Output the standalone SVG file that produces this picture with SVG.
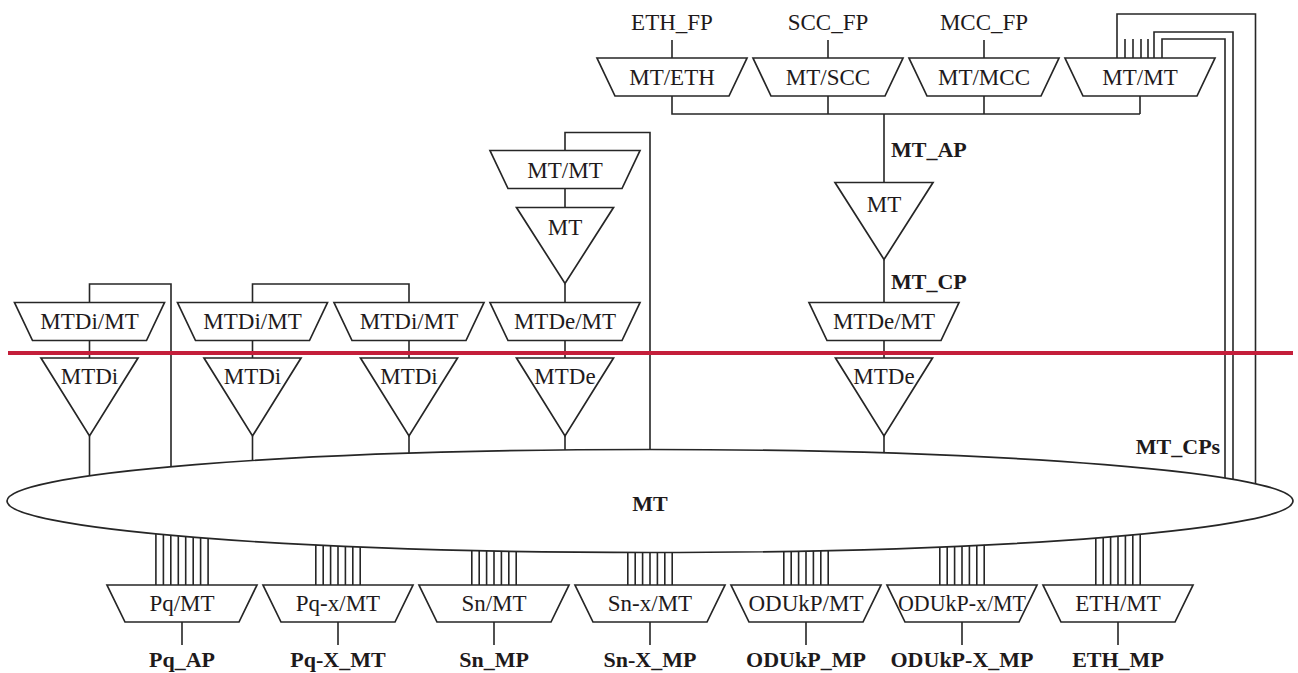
<svg xmlns="http://www.w3.org/2000/svg" width="1298" height="673" viewBox="0 0 1298 673">
<style>
.s{fill:#fff;stroke:#262626;stroke-width:1.7;stroke-linejoin:miter}
.c{fill:none;stroke:#262626;stroke-width:1.6}
.t{font-family:"Liberation Serif","Times New Roman",serif;font-size:23px;fill:#1e1a1b;text-anchor:middle}
.b{font-family:"Liberation Serif","Times New Roman",serif;font-size:22px;font-weight:bold;fill:#1e1a1b}
.m{text-anchor:middle}
</style>
<rect width="1298" height="673" fill="#fff"/>
<g id="connectors" class="c">
<path d="M672,40V58M828,40V58M984,40V58"/>
<path d="M672,96V114H1140M828,96V114M984,96V114M1140,96V114"/>
<path d="M884,114V182.5M884,259.5V302.5M884,340.5V358M884,436V457"/>
<path d="M1117,58V14H1255.5V487M1154,58V32H1233V483M1162,58V39H1225V482M1125,39V58M1133,39V58M1141,39V58M1148,39V58"/>
<path d="M565,150.5V132.5H650V453M565,188.5V207.5M565,283.5V302.5M565,340.5V358M565,436V454"/>
<path d="M89.5,302.5V284H171V470M89.5,340.5V358M89.5,436V480"/>
<path d="M252.5,302.5V284H409V302.5M252.5,340.5V358M252.5,436V464M409,340.5V358M409,436V457"/>
<path d="M155.9,532V585M163.4,532V585M170.8,532V585M178.3,532V585M185.7,532V585M193.2,532V585M200.6,532V585M208.1,532V585M182,622V645"/>
<path d="M315.8,542V585M323.2,542V585M330.6,542V585M338,542V585M345.4,542V585M352.8,542V585M360.2,542V585M338,622V645"/>
<path d="M471.8,547V585M479.2,547V585M486.6,547V585M494,547V585M501.4,547V585M508.8,547V585M516.2,547V585M494,622V645"/>
<path d="M627.8,548V585M635.2,548V585M642.6,548V585M650,548V585M657.4,548V585M664.8,548V585M672.2,548V585M650,622V645"/>
<path d="M783.8,547V585M791.2,547V585M798.6,547V585M806,547V585M813.4,547V585M820.8,547V585M828.2,547V585M806,622V645"/>
<path d="M939.8,542V585M947.2,542V585M954.6,542V585M962,542V585M969.4,542V585M976.8,542V585M984.2,542V585M962,622V645"/>
<path d="M1095.8,532V585M1103.2,532V585M1110.6,532V585M1118,532V585M1125.4,532V585M1132.8,532V585M1140.2,532V585M1118,622V645"/>
</g>
<g id="labels">
<text class="t" x="672" y="30">ETH_FP</text>
<text class="t" x="828" y="30">SCC_FP</text>
<text class="t" x="984" y="30">MCC_FP</text>
<text class="b" x="891" y="157">MT_AP</text>
<text class="b" x="891" y="289">MT_CP</text>
<text class="b m" x="1178" y="454">MT_CPs</text>
<text class="b m" x="182" y="667">Pq_AP</text>
<text class="b m" x="338" y="667">Pq-X_MT</text>
<text class="b m" x="494" y="667">Sn_MP</text>
<text class="b m" x="650" y="667">Sn-X_MP</text>
<text class="b m" x="806" y="667">ODUkP_MP</text>
<text class="b m" x="962" y="667">ODUkP-X_MP</text>
<text class="b m" x="1118" y="667">ETH_MP</text>
</g>
<g id="mt-eth"><polygon class="s" points="597,58 747,58 729,96 615,96"/><text class="t" x="672" y="85">MT/ETH</text></g>
<g id="mt-scc"><polygon class="s" points="753,58 903,58 885,96 771,96"/><text class="t" x="828" y="85">MT/SCC</text></g>
<g id="mt-mcc"><polygon class="s" points="909,58 1059,58 1041,96 927,96"/><text class="t" x="984" y="85">MT/MCC</text></g>
<g id="mt-mt-top"><polygon class="s" points="1065,58 1215,58 1197,96 1083,96"/><text class="t" x="1140" y="85">MT/MT</text></g>
<g id="mt-tt-right"><polygon class="s" points="835,182.5 933,182.5 884,259.5"/><text class="t" x="884" y="212">MT</text></g>
<g id="mt-mt-mid"><polygon class="s" points="490,150.5 640,150.5 622,188.5 508,188.5"/><text class="t" x="565" y="178">MT/MT</text></g>
<g id="mt-tt-mid"><polygon class="s" points="516.5,207.5 613.5,207.5 565,283.5"/><text class="t" x="565" y="235">MT</text></g>
<g id="mtdi-mt-1"><polygon class="s" points="14.5,302.5 164.5,302.5 146.5,340.5 32.5,340.5"/><text class="t" x="89.5" y="329">MTDi/MT</text></g>
<g id="mtdi-mt-2"><polygon class="s" points="177.5,302.5 327.5,302.5 309.5,340.5 195.5,340.5"/><text class="t" x="252.5" y="329">MTDi/MT</text></g>
<g id="mtdi-mt-3"><polygon class="s" points="334,302.5 484,302.5 466,340.5 352,340.5"/><text class="t" x="409" y="329">MTDi/MT</text></g>
<g id="mtde-mt-1"><polygon class="s" points="490,302.5 640,302.5 622,340.5 508,340.5"/><text class="t" x="565" y="329">MTDe/MT</text></g>
<g id="mtde-mt-2"><polygon class="s" points="809,302.5 959,302.5 941,340.5 827,340.5"/><text class="t" x="884" y="329">MTDe/MT</text></g>
<g id="mtdi-1"><polygon class="s" points="41,358 138,358 89.5,436"/><text class="t" x="89.5" y="384">MTDi</text></g>
<g id="mtdi-2"><polygon class="s" points="204,358 301,358 252.5,436"/><text class="t" x="252.5" y="384">MTDi</text></g>
<g id="mtdi-3"><polygon class="s" points="360.5,358 457.5,358 409,436"/><text class="t" x="409" y="384">MTDi</text></g>
<g id="mtde-1"><polygon class="s" points="516.5,358 613.5,358 565,436"/><text class="t" x="565" y="384">MTDe</text></g>
<g id="mtde-2"><polygon class="s" points="835.5,358 932.5,358 884,436"/><text class="t" x="884" y="384">MTDe</text></g>
<g id="mt-bus"><ellipse class="s" cx="650" cy="501" rx="643" ry="51.5"/><text class="b m" x="650" y="511">MT</text></g>
<g id="pq-mt"><polygon class="s" points="107,585 257,585 239,622 125,622"/><text class="t" x="182" y="611">Pq/MT</text></g>
<g id="pqx-mt"><polygon class="s" points="263,585 413,585 395,622 281,622"/><text class="t" x="338" y="611">Pq-x/MT</text></g>
<g id="sn-mt"><polygon class="s" points="419,585 569,585 551,622 437,622"/><text class="t" x="494" y="611">Sn/MT</text></g>
<g id="snx-mt"><polygon class="s" points="575,585 725,585 707,622 593,622"/><text class="t" x="650" y="611">Sn-x/MT</text></g>
<g id="odukp-mt"><polygon class="s" points="731,585 881,585 863,622 749,622"/><text class="t" x="806" y="611">ODUkP/MT</text></g>
<g id="odukpx-mt"><polygon class="s" points="887,585 1037,585 1019,622 905,622"/><text class="t" x="962" y="611" textLength="128" lengthAdjust="spacingAndGlyphs">ODUkP-x/MT</text></g>
<g id="eth-mt"><polygon class="s" points="1043,585 1193,585 1175,622 1061,622"/><text class="t" x="1118" y="611">ETH/MT</text></g>
<line x1="8" y1="353" x2="1293" y2="353" stroke="#c41e3a" stroke-width="4"/>
</svg>
